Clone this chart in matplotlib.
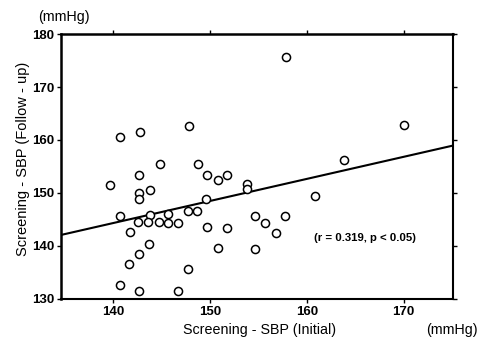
import numpy as np
import matplotlib.pyplot as plt

plt.rcParams['font.family'] = ['Liberation Sans', 'DejaVu Sans']

# screening SBP, initial vs follow-up (mmHg)
sbp_initial = [157.8, 170.0, 163.8, 140.7, 142.8, 147.8, 144.8, 148.8, 149.7, 150.8,
               151.8, 142.7, 139.7, 142.7, 142.7, 143.8, 149.6, 153.8, 153.8, 160.8,
               140.7, 143.8, 145.7, 147.7, 148.7, 142.6, 143.6, 144.7, 145.7, 146.7,
               141.7, 149.7, 151.8, 143.7, 142.7, 141.6, 147.7, 140.7, 142.7, 146.7,
               150.8, 154.6, 155.7, 157.7, 156.8, 154.6]
sbp_followup = [175.6, 162.8, 156.3, 160.6, 161.5, 162.7, 155.4, 155.4, 153.4, 152.4,
                153.4, 153.4, 151.5, 150.0, 148.9, 150.5, 148.8, 151.7, 150.7, 149.5,
                145.7, 145.9, 146.1, 146.5, 146.5, 144.5, 144.5, 144.5, 144.4, 144.4,
                142.6, 143.5, 143.4, 140.3, 138.5, 136.6, 135.6, 132.6, 131.5, 131.5,
                139.5, 145.7, 144.3, 145.7, 142.4, 139.3]

# regression line: y = intercept + slope * (x - 140)
intercept = 144.3
slope = 0.417
xlim = (134.6, 175.1)
ylim = (130, 180)

fig = plt.figure(figsize=(4.78, 3.41), dpi=100)
ax = fig.add_axes([0.1276, 0.124, 0.82, 0.776])

ax.scatter(sbp_initial, sbp_followup, s=34, facecolors='white', edgecolors='black',
           linewidths=1.1, zorder=3)

xl = np.array(xlim)
ax.plot(xl, intercept + slope * (xl - 140), color='black', lw=1.5, zorder=2)

ax.set_xlim(*xlim)
ax.set_ylim(*ylim)
ax.set_xticks([140, 150, 160, 170])
ax.set_yticks([130, 140, 150, 160, 170, 180])

for side in ['left', 'top']:
    ax.spines[side].set_linewidth(1.8)
for side in ['right', 'bottom']:
    ax.spines[side].set_linewidth(1.5)

ax.tick_params(direction='out', length=3, width=1, labelsize=9.5,
               top=True, right=True, labeltop=False, labelright=False, pad=2)
for lab in ax.get_xticklabels() + ax.get_yticklabels():
    lab.set_fontweight('bold')

fig.text(0.543, 0.033, 'Screening - SBP (Initial)', fontsize=10.3, ha='center', va='center')
fig.text(0.048, 0.534, 'Screening - SBP (Follow - up)', fontsize=10.5, rotation=90,
         ha='center', va='center')

fig.text(0.134, 0.95, '(mmHg)', fontsize=10.3, ha='center', va='center')
fig.text(0.945, 0.033, '(mmHg)', fontsize=10.3, ha='center', va='center')

ax.text(166.0, 141.4, '(r = 0.319, p < 0.05)', fontsize=8.2, fontweight='bold',
        ha='center', va='center')

fig.savefig('out.png', dpi=100)
